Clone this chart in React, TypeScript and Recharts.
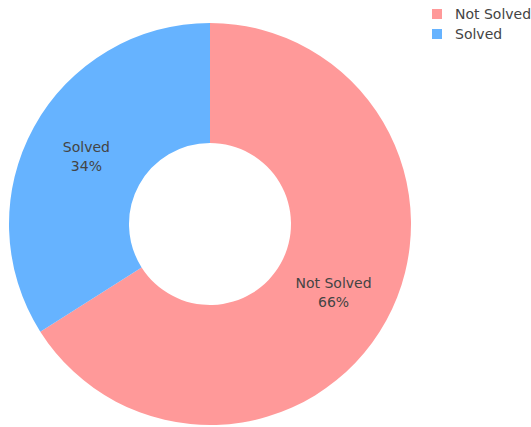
import React from "react";
import { PieChart, Pie, Cell, Legend } from "recharts";

const categories = ["Not Solved", "Solved"];
const values = [66, 34];
const colors = ["#FF9999", "#66B3FF"];

const data = categories.map((name, i) => ({ name, value: values[i] }));

const RADIAN = Math.PI / 180;
const FONT = "DejaVu Sans, Verdana, sans-serif";

const renderLabel = (props: any) => {
  const { cx, cy, midAngle, innerRadius, outerRadius, name, percent } = props;
  const r = (innerRadius + outerRadius) / 2;
  const x = cx + r * Math.cos(-midAngle * RADIAN);
  const y = cy + r * Math.sin(-midAngle * RADIAN);
  return (
    <text x={x} y={y} textAnchor="middle" fill="#444" fontSize={14} fontFamily={FONT}>
      <tspan x={x} dy={-4}>{name}</tspan>
      <tspan x={x} dy={19}>{Math.round(percent * 100)}%</tspan>
    </text>
  );
};

const renderLegend = () => (
  <div style={{ fontFamily: FONT, fontSize: 14, color: "#444" }}>
    {categories.map((c, i) => (
      <div key={c} style={{ display: "flex", alignItems: "center", height: 20 }}>
        <div style={{ width: 10, height: 10, backgroundColor: colors[i], marginRight: 13 }} />
        <span>{c}</span>
      </div>
    ))}
  </div>
);

const App: React.FC = () => {
  return (
    <div style={{ position: "absolute", left: 0, top: 0, width: 531, height: 427, background: "#fff" }}>
      <PieChart width={531} height={427} margin={{ top: 0, right: 0, left: 0, bottom: 0 }}>
        <Pie
          data={data}
          dataKey="value"
          nameKey="name"
          cx={210}
          cy={224}
          innerRadius={81}
          outerRadius={201}
          startAngle={90}
          endAngle={-270}
          stroke="none"
          label={renderLabel}
          labelLine={false}
          isAnimationActive={false}
        >
          {data.map((d, i) => (
            <Cell key={d.name} fill={colors[i]} />
          ))}
        </Pie>
        <Legend
          content={renderLegend}
          layout="vertical"
          verticalAlign="top"
          align="right"
          wrapperStyle={{ left: 432, top: 4, width: 100 }}
        />
      </PieChart>
    </div>
  );
};

export default App;
